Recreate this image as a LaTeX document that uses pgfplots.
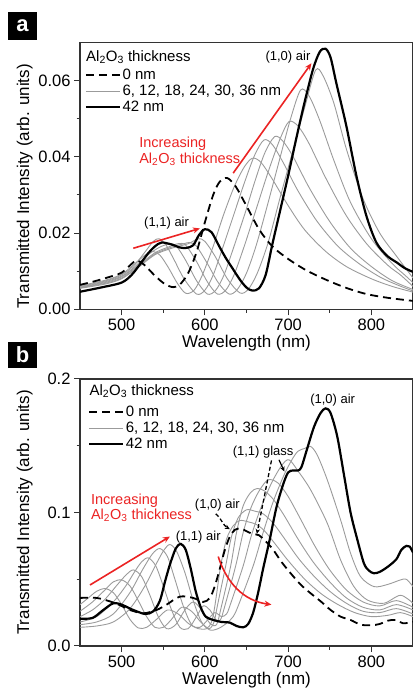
\documentclass[border=0pt]{standalone}
\usepackage{fontspec}
\setmainfont{Liberation Sans}
\usepackage{pgfplots}
\pgfplotsset{compat=1.18}
\usetikzlibrary{arrows.meta}
\definecolor{gc}{RGB}{155,155,155}
\definecolor{rc}{RGB}{235,35,35}
\tikzset{
  ann/.style={font=\fontsize{13}{15}\selectfont, inner sep=0pt},
  redtxt/.style={font=\fontsize{14.5}{16}\selectfont, text=rc, inner sep=0pt},
}
\pgfplotsset{
  panel/.style={
    scale only axis, width=333pt, height=267pt,
    xmin=450, xmax=850,
    axis line style={line width=1.3pt, color=black!80},
    tick align=outside, tick pos=left,
    major tick length=6pt, minor tick length=3.5pt,
    tick style={line width=1pt, color=black!80},
    xtick={500,600,700,800}, minor xtick={550,650,750,850},
    scaled y ticks=false,
    tick label style={font=\fontsize{16.5}{18}\selectfont},
    /pgf/number format/assume math mode=true,
    label style={font=\fontsize{17}{20}\selectfont},
    xlabel={Wavelength (nm)},
    ylabel={Transmitted Intensity (arb. units)},
    xlabel style={at={(axis description cs:0.5,-0.127)}, anchor=center},
    legend style={draw=none, fill=none, font=\fontsize{15}{17}\selectfont, inner sep=0pt, row sep=1pt, nodes={inner sep=1.5pt}},
    legend cell align=left,
    legend image code/.code={\draw[##1] (0pt,0pt) -- (34pt,0pt);},
  },
  gline/.style={gc, line width=0.9pt, smooth, tension=0.5, forget plot},
  zero/.style={black, line width=1.8pt, dash pattern=on 8pt off 5pt, smooth, tension=0.5, forget plot},
  thick42/.style={black, line width=2.2pt, smooth, tension=0.5, forget plot},
}
\begin{document}
\begin{tikzpicture}[x=1pt,y=1pt]
\useasboundingbox (0,0) rectangle (412,692);
\node[fill=black, text=white, font=\bfseries\fontsize{22}{22}\selectfont, minimum width=29pt, minimum height=28pt, inner sep=0pt] at (22.5,666) {a};
\node[fill=black, text=white, font=\bfseries\fontsize{22}{22}\selectfont, minimum width=29pt, minimum height=26pt, inner sep=0pt] at (22.5,337) {b};
% ---------------- panel a ----------------
\begin{axis}[panel, at={(80pt,382.7pt)}, anchor=south west,
  ymin=0, ymax=0.07, ytick={0,0.02,0.04,0.06}, minor ytick={0.01,0.03,0.05},
  yticklabel style={/pgf/number format/fixed, /pgf/number format/fixed zerofill, /pgf/number format/precision=2},
  ylabel style={at={(axis description cs:-0.166,0.46)}, anchor=center},
  legend style={at={(axis description cs:0.014,0.905)}, anchor=north west}]
\addplot[gline] coordinates {(450,0.0062)(480,0.0076)(500,0.0092)(515,0.0118)(528,0.0142)(537,0.0152)(546,0.0142)(556,0.0110)(567,0.0068)(577,0.0042)(587,0.0050)(597,0.0090)(610,0.0165)(622,0.0245)(635,0.0320)(647,0.0372)(657,0.0396)(667,0.0386)(680,0.0345)(700,0.0272)(720,0.0208)(745,0.0152)(770,0.0112)(800,0.0080)(825,0.0060)(850,0.0045)};
\addplot[gline] coordinates {(450,0.0060)(480,0.0074)(500,0.0090)(515,0.0115)(528,0.0150)(538,0.0178)(545,0.0185)(553,0.0170)(563,0.0130)(575,0.0080)(590,0.0040)(600,0.0050)(610,0.0090)(622,0.0165)(635,0.0250)(648,0.0335)(660,0.0405)(671,0.0444)(681,0.0432)(694,0.0385)(712,0.0310)(735,0.0230)(760,0.0165)(785,0.0120)(810,0.0085)(830,0.0065)(850,0.0048)};
\addplot[gline] coordinates {(450,0.0058)(480,0.0072)(500,0.0087)(515,0.0110)(530,0.0140)(545,0.0162)(558,0.0172)(566,0.0165)(577,0.0128)(590,0.0075)(603,0.0040)(613,0.0050)(623,0.0090)(635,0.0165)(648,0.0250)(660,0.0335)(672,0.0410)(684,0.0453)(694,0.0440)(706,0.0400)(725,0.0320)(750,0.0230)(775,0.0160)(800,0.0112)(825,0.0075)(850,0.0052)};
\addplot[gline] coordinates {(450,0.0057)(480,0.0070)(500,0.0085)(520,0.0115)(540,0.0148)(556,0.0163)(568,0.0172)(577,0.0168)(590,0.0125)(603,0.0072)(615,0.0040)(625,0.0050)(635,0.0090)(648,0.0170)(662,0.0265)(676,0.0360)(690,0.0445)(701,0.0492)(712,0.0480)(725,0.0435)(745,0.0345)(770,0.0245)(795,0.0170)(820,0.0115)(835,0.0090)(850,0.0060)};
\addplot[gline] coordinates {(450,0.0056)(480,0.0068)(500,0.0082)(520,0.0112)(540,0.0145)(560,0.0163)(575,0.0172)(582,0.0175)(590,0.0165)(603,0.0120)(616,0.0070)(629,0.0040)(639,0.0052)(650,0.0095)(662,0.0170)(676,0.0280)(690,0.0395)(703,0.0500)(715,0.0575)(725,0.0560)(738,0.0495)(755,0.0390)(775,0.0280)(800,0.0185)(825,0.0120)(840,0.0090)(850,0.0070)};
\addplot[gline] coordinates {(450,0.0055)(480,0.0066)(500,0.0080)(520,0.0110)(540,0.0143)(560,0.0160)(580,0.0172)(592,0.0185)(600,0.0178)(612,0.0140)(627,0.0080)(642,0.0043)(652,0.0052)(663,0.0095)(676,0.0175)(690,0.0290)(705,0.0410)(720,0.0530)(733,0.0627)(742,0.0612)(755,0.0540)(770,0.0420)(790,0.0290)(810,0.0200)(830,0.0140)(850,0.0082)};
\addplot[zero] coordinates {(450,0.0064)(470,0.0075)(490,0.0088)(500,0.0096)(510,0.0115)(518,0.0128)(528,0.0115)(540,0.0088)(552,0.0066)(562,0.0058)(570,0.0065)(580,0.0095)(590,0.0150)(600,0.0228)(610,0.0300)(618,0.0335)(627,0.0344)(637,0.0322)(649,0.0275)(665,0.0210)(681,0.0165)(700,0.0132)(722,0.0102)(746,0.0077)(770,0.0056)(794,0.0040)(820,0.0030)(850,0.0022)};
\addplot[thick42] coordinates {(450,0.0046)(475,0.0057)(500,0.0070)(512,0.0090)(520,0.0112)(532,0.0147)(540,0.0165)(548,0.0175)(560,0.0170)(570,0.0162)(578,0.0161)(586,0.0168)(593,0.0195)(600,0.0210)(608,0.0202)(617,0.0166)(625,0.0135)(633,0.0108)(642,0.0078)(650,0.0057)(657,0.0049)(665,0.0055)(673,0.0090)(681,0.0170)(690,0.0255)(700,0.0350)(710,0.0450)(720,0.0545)(730,0.0630)(738,0.0675)(745,0.0683)(751,0.0660)(758,0.0592)(770,0.0480)(782,0.0350)(794,0.0245)(806,0.0175)(819,0.0140)(831,0.0122)(840,0.0108)(850,0.0098)};
\addlegendimage{black, line width=1.8pt, dash pattern=on 8pt off 5pt}
\addlegendentry{0 nm}
\addlegendimage{gc, line width=0.9pt}
\addlegendentry{6, 12, 18, 24, 30, 36 nm}
\addlegendimage{black, line width=2.2pt}
\addlegendentry{42 nm}
\node[anchor=west, font=\fontsize{15}{17}\selectfont, inner sep=0pt] at (axis description cs:0.018,0.945) {Al\textsubscript{2}O\textsubscript{3} thickness};
\node[ann] at (axis cs:699.8,0.0661) {(1,0) air};
\node[ann] at (axis cs:554,0.0225) {(1,1) air};
\node[redtxt, anchor=west] at (axis cs:521,0.0435) {Increasing};
\node[redtxt, anchor=west] at (axis cs:521,0.0393) {Al\textsubscript{2}O\textsubscript{3} thickness};
\draw[rc, line width=1.6pt, -{Stealth[length=7pt,width=6pt]}] (axis cs:634,0.0357) -- (axis cs:728,0.0645);
\draw[rc, line width=1.6pt, -{Stealth[length=7pt,width=6pt]}] (axis cs:514,0.0160) -- (axis cs:594,0.0212);
\end{axis}
% ---------------- panel b ----------------
\begin{axis}[panel, at={(80pt,46pt)}, anchor=south west,
  ymin=0, ymax=0.2, ytick={0,0.1,0.2}, minor ytick={0.05,0.15},
  yticklabel style={/pgf/number format/fixed, /pgf/number format/fixed zerofill, /pgf/number format/precision=1},
  ylabel style={at={(axis description cs:-0.166,0.5)}, anchor=center},
  legend style={at={(axis description cs:0.024,0.905)}, anchor=north west}]
\addplot[gline] coordinates {(450,0.031)(460,0.036)(470,0.041)(480,0.043)(490,0.040)(500,0.031)(510,0.020)(520,0.0135)(530,0.014)(542,0.020)(555,0.027)(568,0.024)(580,0.017)(592,0.013)(602,0.013)(608,0.018)(612,0.030)(619,0.060)(626,0.080)(634,0.090)(642,0.094)(652,0.093)(662,0.091)(672,0.086)(685,0.076)(700,0.064)(720,0.050)(740,0.039)(760,0.031)(780,0.025)(800,0.022)(820,0.023)(835,0.025)(850,0.022)};
\addplot[gline] coordinates {(450,0.026)(465,0.033)(480,0.042)(490,0.048)(500,0.0495)(510,0.045)(520,0.034)(530,0.022)(540,0.014)(550,0.014)(560,0.020)(572,0.029)(584,0.026)(595,0.018)(605,0.013)(611,0.018)(615,0.030)(625,0.060)(632,0.082)(640,0.096)(650,0.102)(660,0.101)(670,0.099)(682,0.092)(695,0.081)(712,0.066)(730,0.053)(750,0.041)(770,0.032)(790,0.026)(810,0.025)(830,0.028)(850,0.024)};
\addplot[gline] coordinates {(450,0.022)(465,0.027)(480,0.035)(495,0.046)(505,0.053)(514,0.057)(524,0.052)(534,0.038)(544,0.022)(554,0.013)(565,0.016)(576,0.027)(586,0.033)(596,0.027)(606,0.017)(614,0.016)(620,0.030)(631,0.060)(638,0.085)(646,0.105)(655,0.115)(663,0.118)(672,0.116)(682,0.110)(695,0.098)(712,0.080)(730,0.063)(750,0.048)(770,0.036)(790,0.029)(810,0.027)(830,0.031)(850,0.027)};
\addplot[gline] coordinates {(450,0.018)(470,0.022)(490,0.033)(505,0.045)(515,0.055)(524,0.063)(532,0.066)(541,0.060)(550,0.045)(560,0.027)(570,0.014)(580,0.013)(590,0.022)(598,0.030)(606,0.027)(614,0.019)(619,0.020)(624,0.030)(637,0.060)(646,0.085)(655,0.103)(665,0.116)(676,0.1245)(688,0.122)(700,0.112)(715,0.095)(732,0.075)(750,0.057)(770,0.042)(790,0.033)(810,0.030)(830,0.034)(850,0.029)};
\addplot[gline] coordinates {(450,0.016)(470,0.018)(490,0.024)(510,0.040)(525,0.057)(537,0.069)(546,0.073)(555,0.067)(564,0.050)(574,0.030)(584,0.016)(594,0.014)(604,0.020)(612,0.025)(620,0.022)(626,0.024)(630,0.030)(646,0.060)(656,0.083)(667,0.103)(680,0.122)(692,0.135)(701,0.1395)(712,0.131)(727,0.117)(747,0.092)(763,0.0645)(779,0.0445)(795,0.0345)(815,0.032)(835,0.038)(850,0.032)};
\addplot[gline] coordinates {(450,0.014)(470,0.015)(490,0.018)(510,0.028)(528,0.045)(542,0.062)(551,0.072)(558,0.076)(566,0.071)(576,0.055)(586,0.034)(596,0.018)(606,0.012)(616,0.013)(626,0.017)(634,0.022)(640,0.030)(658,0.060)(670,0.085)(682,0.108)(695,0.128)(705,0.140)(712,0.146)(720,0.148)(727,0.1495)(735,0.143)(747,0.1245)(763,0.0945)(775,0.0695)(787,0.052)(803,0.0445)(819,0.046)(835,0.0495)(842,0.050)(850,0.0445)};
\addplot[zero] coordinates {(450,0.036)(470,0.036)(488,0.033)(500,0.030)(510,0.027)(526,0.0245)(542,0.027)(554,0.031)(570,0.037)(586,0.036)(598,0.033)(606,0.036)(612,0.045)(618,0.058)(624,0.072)(630,0.082)(636,0.087)(643,0.088)(650,0.086)(657,0.084)(665,0.083)(672,0.079)(681,0.073)(692,0.063)(703,0.0545)(715,0.046)(727,0.0395)(740,0.033)(751,0.027)(763,0.022)(775,0.0195)(787,0.016)(800,0.0155)(810,0.0165)(820,0.019)(829,0.0195)(838,0.017)(850,0.018)};
\addplot[thick42] coordinates {(450,0.0205)(465,0.021)(478,0.027)(490,0.032)(500,0.031)(512,0.0275)(528,0.024)(538,0.026)(546,0.034)(552,0.048)(558,0.061)(565,0.073)(571,0.0765)(577,0.072)(583,0.058)(589,0.041)(595,0.029)(601,0.022)(610,0.0195)(620,0.018)(630,0.0175)(638,0.0150)(646,0.0140)(652,0.0165)(658,0.025)(664,0.040)(670,0.058)(678,0.080)(686,0.104)(694,0.121)(700,0.130)(706,0.1315)(712,0.1315)(716,0.134)(722,0.146)(731,0.164)(739,0.1745)(745,0.178)(751,0.1745)(759,0.157)(767,0.1285)(775,0.100)(783,0.080)(791,0.062)(797,0.0565)(803,0.0545)(810,0.0555)(820,0.0595)(830,0.0650)(836,0.072)(842,0.075)(846,0.0745)(850,0.0700)};
\addlegendimage{black, line width=1.8pt, dash pattern=on 8pt off 5pt}
\addlegendentry{0 nm}
\addlegendimage{gc, line width=0.9pt}
\addlegendentry{6, 12, 18, 24, 30, 36 nm}
\addlegendimage{black, line width=2.2pt}
\addlegendentry{42 nm}
\node[anchor=west, font=\fontsize{15}{17}\selectfont, inner sep=0pt] at (axis description cs:0.028,0.9535) {Al\textsubscript{2}O\textsubscript{3} thickness};
\node[ann] at (axis cs:753.5,0.1845) {(1,0) air};
\node[ann] at (axis cs:670,0.145) {(1,1) glass};
\node[ann] at (axis cs:615,0.1052) {(1,0) air};
\node[ann] at (axis cs:592,0.0815) {(1,1) air};
\node[redtxt, anchor=west] at (axis cs:463,0.109) {Increasing};
\node[redtxt, anchor=west] at (axis cs:463,0.0977) {Al\textsubscript{2}O\textsubscript{3} thickness};
\draw[rc, line width=1.6pt, -{Stealth[length=7pt,width=6pt]}] (axis cs:462,0.0457) -- (axis cs:558,0.082);
\draw[rc, line width=1.6pt, -{Stealth[length=7pt,width=6pt]}] (axis cs:616,0.067) to[out=-72,in=172] (axis cs:680,0.031);
\draw[black, line width=1.3pt, dash pattern=on 4pt off 2.5pt, -{Stealth[length=5pt,width=4.5pt]}] (axis cs:680,0.139) -- (axis cs:662.5,0.084);
\draw[black, line width=1.2pt, -{Stealth[length=5pt,width=4.5pt]}] (axis cs:689,0.1395) -- (axis cs:695.5,0.1307);
\draw[black, line width=1.3pt, dash pattern=on 4pt off 2.5pt, -{Stealth[length=5pt,width=4.5pt]}] (axis cs:613,0.099) to[out=-40,in=150] (axis cs:630,0.0875);
\end{axis}
\end{tikzpicture}
\end{document}
